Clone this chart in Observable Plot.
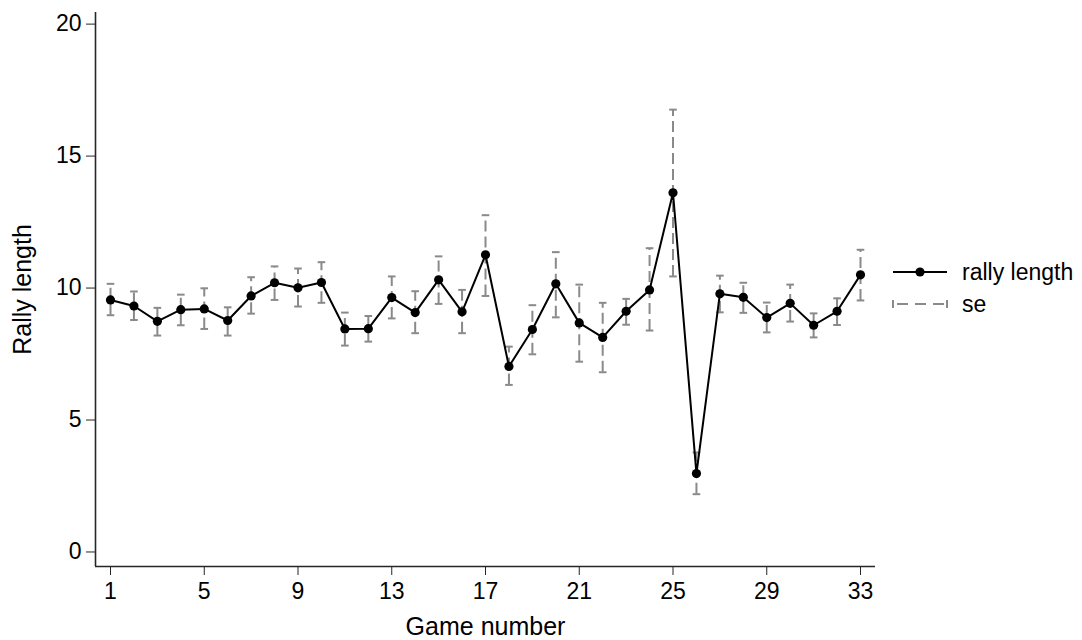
<!DOCTYPE html>
<html>
<head>
<meta charset="utf-8">
<script src="https://cdn.jsdelivr.net/npm/d3@7"></script>
<script src="https://cdn.jsdelivr.net/npm/@observablehq/plot@0.6"></script>
<style>
  html, body { margin: 0; padding: 0; background: #fff; overflow: hidden; }
  #wrap { position: relative; width: 1082px; height: 640px; }
  #wrap svg.plot { display: block; }
  .legend { position: absolute; left: 892px; top: 256px; font-family: "Liberation Sans", Arial, sans-serif; font-size: 23px; color: #000; }
  .legend .row { display: flex; align-items: center; height: 32px; }
  .legend .row svg { margin-right: 14px; }
</style>
</head>
<body>
<div id="wrap"></div>
<script>
// Games played, in order
const games = [1, 2, 3, 4, 5, 6, 7, 8, 9, 10, 11, 12, 13, 14, 15, 16, 17,
               18, 19, 20, 21, 22, 23, 24, 25, 26, 27, 28, 29, 30, 31, 32, 33];

// Mean rally length per game
const rallyLength = [9.55, 9.32, 8.74, 9.18, 9.21, 8.77, 9.70, 10.20, 10.01, 10.21, 8.45,
                     8.46, 9.64, 9.07, 10.31, 9.10, 11.26, 7.03, 8.43, 10.16, 8.68, 8.13,
                     9.12, 9.93, 13.61, 2.97, 9.78, 9.65, 8.88, 9.42, 8.59, 9.12, 10.50];

// Upper and lower ends of the se bands
const seUpper = [10.16, 9.87, 9.25, 9.75, 9.99, 9.27, 10.41, 10.82, 10.74, 10.98, 9.07,
                 8.94, 10.44, 9.88, 11.20, 9.93, 12.76, 7.78, 9.35, 11.36, 10.13, 9.44,
                 9.59, 11.51, 16.76, 3.77, 10.47, 10.20, 9.45, 10.13, 9.04, 9.61, 11.45];
const seLower = [8.97, 8.79, 8.20, 8.59, 8.45, 8.20, 9.03, 9.55, 9.30, 9.44, 7.82,
                 7.97, 8.85, 8.29, 9.40, 8.29, 9.70, 6.33, 7.49, 8.89, 7.21, 6.81,
                 8.61, 8.39, 10.44, 2.19, 9.08, 9.06, 8.32, 8.73, 8.13, 8.60, 9.53];

// Axis ticks
const xTicks = [1, 5, 9, 13, 17, 21, 25, 29, 33];
const yTicks = [0, 5, 10, 15, 20];

const rows = games.map((g, i) => ({game: g, mean: rallyLength[i], hi: seUpper[i], lo: seLower[i]}));

const seColor = "#8a8a8a";
const axisColor = "#262626";
const xDomain = [0.36, 33.64];
const yDomain = [-0.55, 20.44];

// Short horizontal stroke used for the error-bar caps
const capSymbol = {
  draw(context, size) {
    const w = Math.sqrt(size / Math.PI);
    context.moveTo(-w, 0);
    context.lineTo(w, 0);
  }
};

const chart = Plot.plot({
  width: 1082,
  height: 640,
  marginLeft: 95,
  marginRight: 207,
  marginTop: 12,
  marginBottom: 74,
  style: {fontFamily: "'Liberation Sans', Arial, sans-serif", fontSize: "23px", color: "#000", background: "#fff"},
  x: {domain: xDomain},
  y: {domain: yDomain},
  marks: [
    Plot.axisX({ticks: xTicks, tickSize: 9, tickPadding: 7, stroke: axisColor, fontSize: 23, label: null}),
    Plot.axisX({ticks: [], tickSize: 0, label: "Game number", labelAnchor: "center", labelArrow: "none",
                labelOffset: 68, fontSize: 25}),
    Plot.axisY({ticks: yTicks, tickSize: 9, tickPadding: 5, stroke: axisColor, fontSize: 23, label: null}),
    Plot.axisY({ticks: [], tickSize: 0, label: "Rally length", labelAnchor: "center", labelArrow: "none",
                labelOffset: 82, fontSize: 25}),
    Plot.ruleX([xDomain[0]], {stroke: axisColor, strokeWidth: 1.6}),
    Plot.ruleY([yDomain[0]], {stroke: axisColor, strokeWidth: 1.6}),
    // se bands: dashed vertical segments with caps
    Plot.ruleX(rows, {x: "game", y1: "lo", y2: "hi", stroke: seColor, strokeWidth: 2, strokeDasharray: "11,5"}),
    Plot.dot(rows, {x: "game", y: "hi", symbol: capSymbol, r: 3.8, stroke: seColor, strokeWidth: 2, fill: "none"}),
    Plot.dot(rows, {x: "game", y: "lo", symbol: capSymbol, r: 3.8, stroke: seColor, strokeWidth: 2, fill: "none"}),
    // rally length line with markers
    Plot.line(rows, {x: "game", y: "mean", stroke: "#000", strokeWidth: 2}),
    Plot.dot(rows, {x: "game", y: "mean", r: 4.6, fill: "#000", stroke: "none"})
  ]
});
chart.classList.add("plot");

const wrap = document.getElementById("wrap");
wrap.appendChild(chart);

// Legend to the right of the plot area
const legend = document.createElement("div");
legend.className = "legend";
legend.innerHTML = `
  <div class="row">
    <svg width="56" height="12"><line x1="1" y1="6" x2="55" y2="6" stroke="#000" stroke-width="2"/><circle cx="28" cy="6" r="4.6" fill="#000"/></svg>
    <span>rally length</span>
  </div>
  <div class="row">
    <svg width="56" height="12">
      <line x1="1" y1="6" x2="55" y2="6" stroke="${seColor}" stroke-width="2" stroke-dasharray="11,7" stroke-dashoffset="-4"/>
      <line x1="1" y1="2" x2="1" y2="10" stroke="${seColor}" stroke-width="2"/>
      <line x1="55" y1="2" x2="55" y2="10" stroke="${seColor}" stroke-width="2"/>
    </svg>
    <span>se</span>
  </div>`;
wrap.appendChild(legend);
</script>
</body>
</html>
